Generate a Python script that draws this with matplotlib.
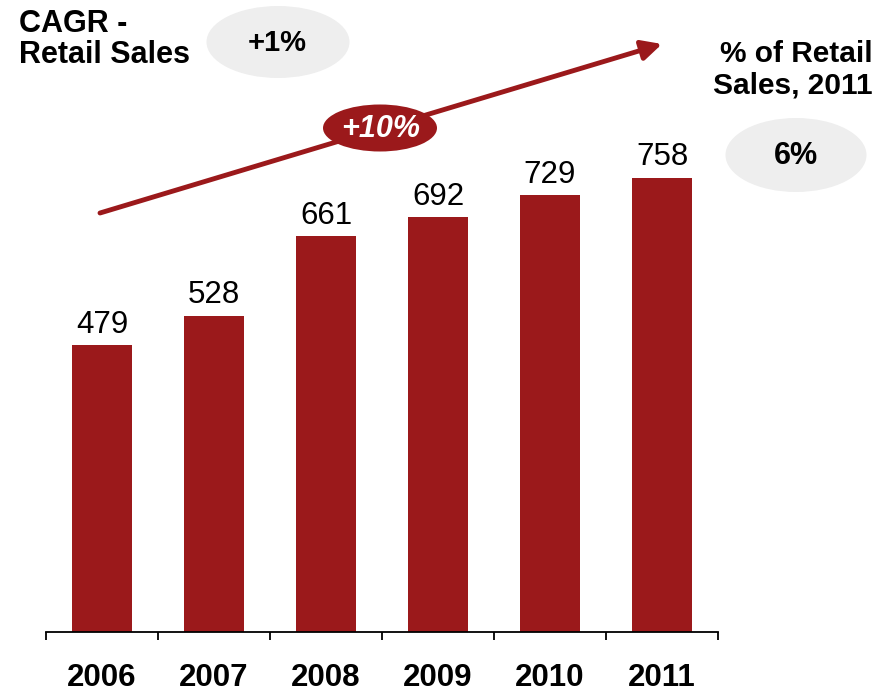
import matplotlib
matplotlib.use("Agg")
import matplotlib.pyplot as plt
from matplotlib.patches import Ellipse

plt.rcParams['font.family'] = ['Liberation Sans', 'DejaVu Sans']

years = ["2006", "2007", "2008", "2009", "2010", "2011"]
sales = [479, 528, 661, 692, 729, 758]
cagr_sales = "+10%"
cagr_retail = "+1%"
share_2011 = "6%"

bar_color = "#9b191b"
bubble_gray = "#eeeeee"

W, H = 884, 693
fig = plt.figure(figsize=(W / 100, H / 100), dpi=100)

# main bar axes: baseline at y=632 px, x from 46 to 718 px
ax = fig.add_axes([46 / W, (H - 632) / H, 672 / W, 632 / H])
x = list(range(len(years)))
ax.bar(x, sales, width=0.536, color=bar_color)
ax.set_xlim(-0.5, 5.5)
ax.set_ylim(0, 1055)
for xi, v in zip(x, sales):
    ax.annotate(str(v), (xi, v), xytext=(0, 9), textcoords="offset points",
                ha="center", va="baseline", fontsize=22.5)

for side in ("top", "right", "left"):
    ax.spines[side].set_visible(False)
ax.spines["bottom"].set_linewidth(1.3)
ax.set_yticks([])
ax.set_xticks(x)
ax.set_xticklabels(years, fontsize=22.5, fontweight="bold")
ax.tick_params(axis="x", which="major", length=0, pad=22)
ax.set_xticks([i - 0.5 for i in range(len(years) + 1)], minor=True)
ax.tick_params(axis="x", which="minor", length=6, width=1.3, direction="out")

# overlay in pixel coordinates for the annotations
ov = fig.add_axes([0, 0, 1, 1])
ov.set_xlim(0, W)
ov.set_ylim(H, 0)
ov.axis("off")

ov.text(19, 32, "CAGR -", fontsize=22, fontweight="bold", ha="left", va="baseline")
ov.text(19, 63, "Retail Sales", fontsize=22, fontweight="bold", ha="left", va="baseline")
ov.add_patch(Ellipse((278, 42), 143, 72, color=bubble_gray, lw=0))
ov.text(277, 43, cagr_retail, fontsize=21, fontweight="bold", ha="center", va="center")

ov.text(873, 62, "% of Retail", fontsize=21.5, fontweight="bold", ha="right", va="baseline")
ov.text(873, 93, "Sales, 2011", fontsize=21.5, fontweight="bold", ha="right", va="baseline")
ov.add_patch(Ellipse((796, 155), 141, 74, color=bubble_gray, lw=0))
ov.text(796, 156, share_2011, fontsize=22, fontweight="bold", ha="center", va="center")

ov.annotate("", xy=(662, 44), xytext=(100, 213),
            arrowprops=dict(arrowstyle="-|>,head_length=0.6,head_width=0.3",
                            mutation_scale=20, lw=3.5, color=bar_color,
                            shrinkA=0, shrinkB=0))
ov.add_patch(Ellipse((380, 128), 114, 47, color=bar_color, lw=0, zorder=3))
ov.text(381, 129, cagr_sales, fontsize=22, fontweight="bold", fontstyle="italic",
        color="white", ha="center", va="center", zorder=4)

fig.savefig("out.png", dpi=100)
